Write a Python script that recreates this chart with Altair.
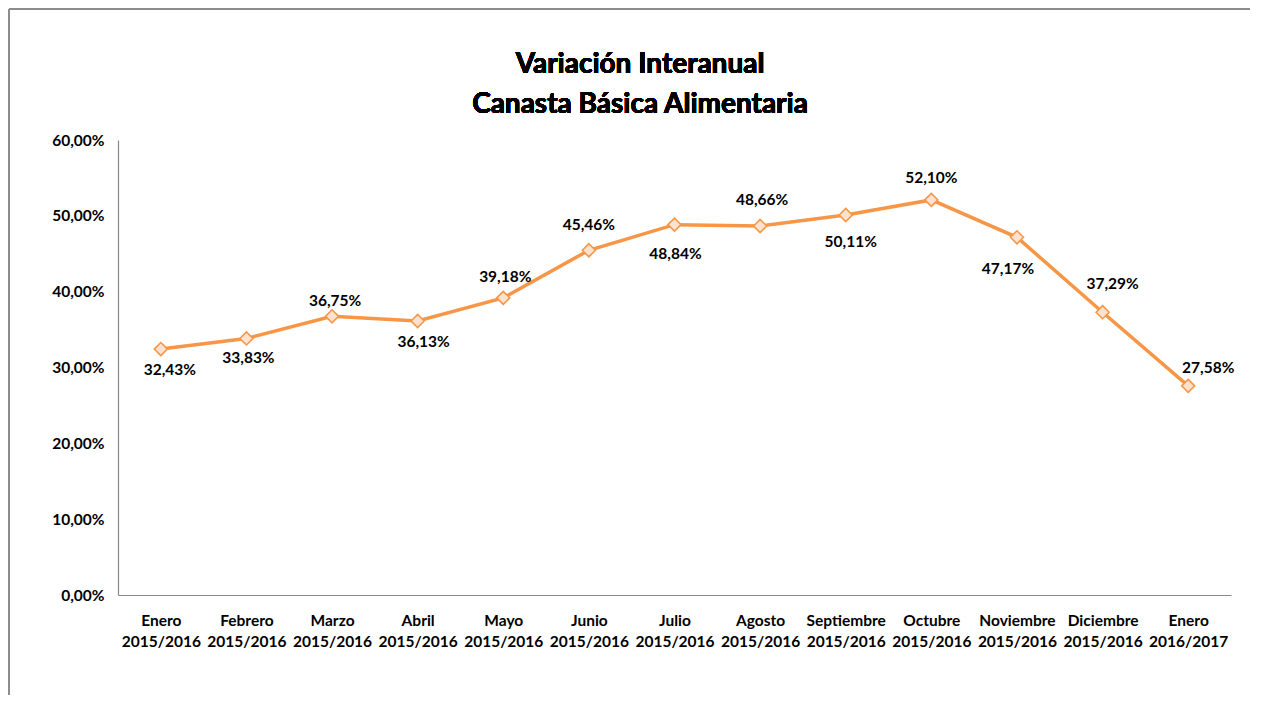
import altair as alt
import pandas as pd

categories = [
    "Enero 2015/2016", "Febrero 2015/2016", "Marzo 2015/2016", "Abril 2015/2016",
    "Mayo 2015/2016", "Junio 2015/2016", "Julio 2015/2016", "Agosto 2015/2016",
    "Septiembre 2015/2016", "Octubre 2015/2016", "Noviembre 2015/2016",
    "Diciembre 2015/2016", "Enero 2016/2017",
]
values = [32.43, 33.83, 36.75, 36.13, 39.18, 45.46, 48.84, 48.66, 50.11, 52.10, 47.17, 37.29, 27.58]
title_lines = ["Variación Interanual", "Canasta Básica Alimentaria"]

# label offsets (dx, dy) in pixels, style only
label_offsets = [
    (9, 21), (2, 20), (3, -15), (6, 21), (2, -21), (0, -25), (1, 29),
    (2, -26), (5, 27), (0, -22), (-9, 32), (10, -28), (20, -18),
]

df = pd.DataFrame({"cat": categories, "val": [v / 100 for v in values]})

FONT = "Lato"
ORANGE = "#F79646"
AXIS_GRAY = "#898989"
FS = 15.5

x_enc = alt.X(
    "cat:N", sort=categories, title=None,
    scale=alt.Scale(paddingInner=0, paddingOuter=0),
    axis=alt.Axis(
        labelAngle=0, labelExpr="split(datum.label, ' ')", labelFont=FONT,
        labelFontSize=FS, labelFontWeight="bold", labelColor="#000000",
        labelLineHeight=21, labelPadding=18, ticks=False, domainColor=AXIS_GRAY,
        domainWidth=1.2, labelBaseline="top",
    ),
)
y_enc = alt.Y(
    "val:Q", title=None,
    scale=alt.Scale(domain=[0, 0.6]),
    axis=alt.Axis(
        values=[0, 0.1, 0.2, 0.3, 0.4, 0.5, 0.6],
        labelExpr="replace(format(datum.value, '.2%'), '.', ',')",
        labelFont=FONT, labelFontSize=FS, labelFontWeight="bold",
        labelColor="#000000", labelPadding=14, ticks=False, grid=False,
        domainColor=AXIS_GRAY, domainWidth=1.2,
    ),
)

base = alt.Chart(df)

line = base.mark_line(color=ORANGE, strokeWidth=3.5).encode(x=x_enc, y=y_enc)
points = base.mark_point(
    shape="diamond", size=170, filled=True, fill="#FDE3CF", stroke=ORANGE,
    strokeWidth=1.6, opacity=1,
).encode(x=x_enc, y=y_enc)

label_layers = []
for cat, (dx, dy) in zip(categories, label_offsets):
    label_layers.append(
        base.transform_filter(alt.datum.cat == cat)
        .transform_calculate(lbl="replace(format(datum.val, '.2%'), '.', ',')")
        .mark_text(font=FONT, fontSize=FS, fontWeight="bold", color="#000000",
                   dx=dx, dy=dy, baseline="middle", align="center")
        .encode(x=x_enc, y=y_enc, text="lbl:N")
    )

# chart title, drawn as two text lines above the plot
title_layers = []
for txt, yy in zip(title_lines, [-75, -35]):
    title_layers.append(
        base.mark_text(font=FONT, fontSize=28, fontWeight="bold", color="#000000",
                       align="center", baseline="middle")
        .encode(x=alt.value(522), y=alt.value(yy), text=alt.value(txt))
    )

# outer frame of the original picture
frame_left = base.mark_rule(color="#8C8C8C", strokeWidth=2).encode(
    x=alt.value(-109), y=alt.value(-131), y2=alt.value(580)
)
frame_top = base.mark_rule(color="#8C8C8C", strokeWidth=2).encode(
    x=alt.value(-109), x2=alt.value(1135), y=alt.value(-131)
)

chart = alt.layer(frame_left, frame_top, line, points, *label_layers, *title_layers).properties(
    width=1113,
    height=455,
    autosize=alt.AutoSizeParams(type="none"),
    padding={"left": 110, "top": 132, "right": 19, "bottom": 100},
).configure_view(stroke=None)

chart.save("out.html", embed_options={"renderer": "svg", "actions": False})
